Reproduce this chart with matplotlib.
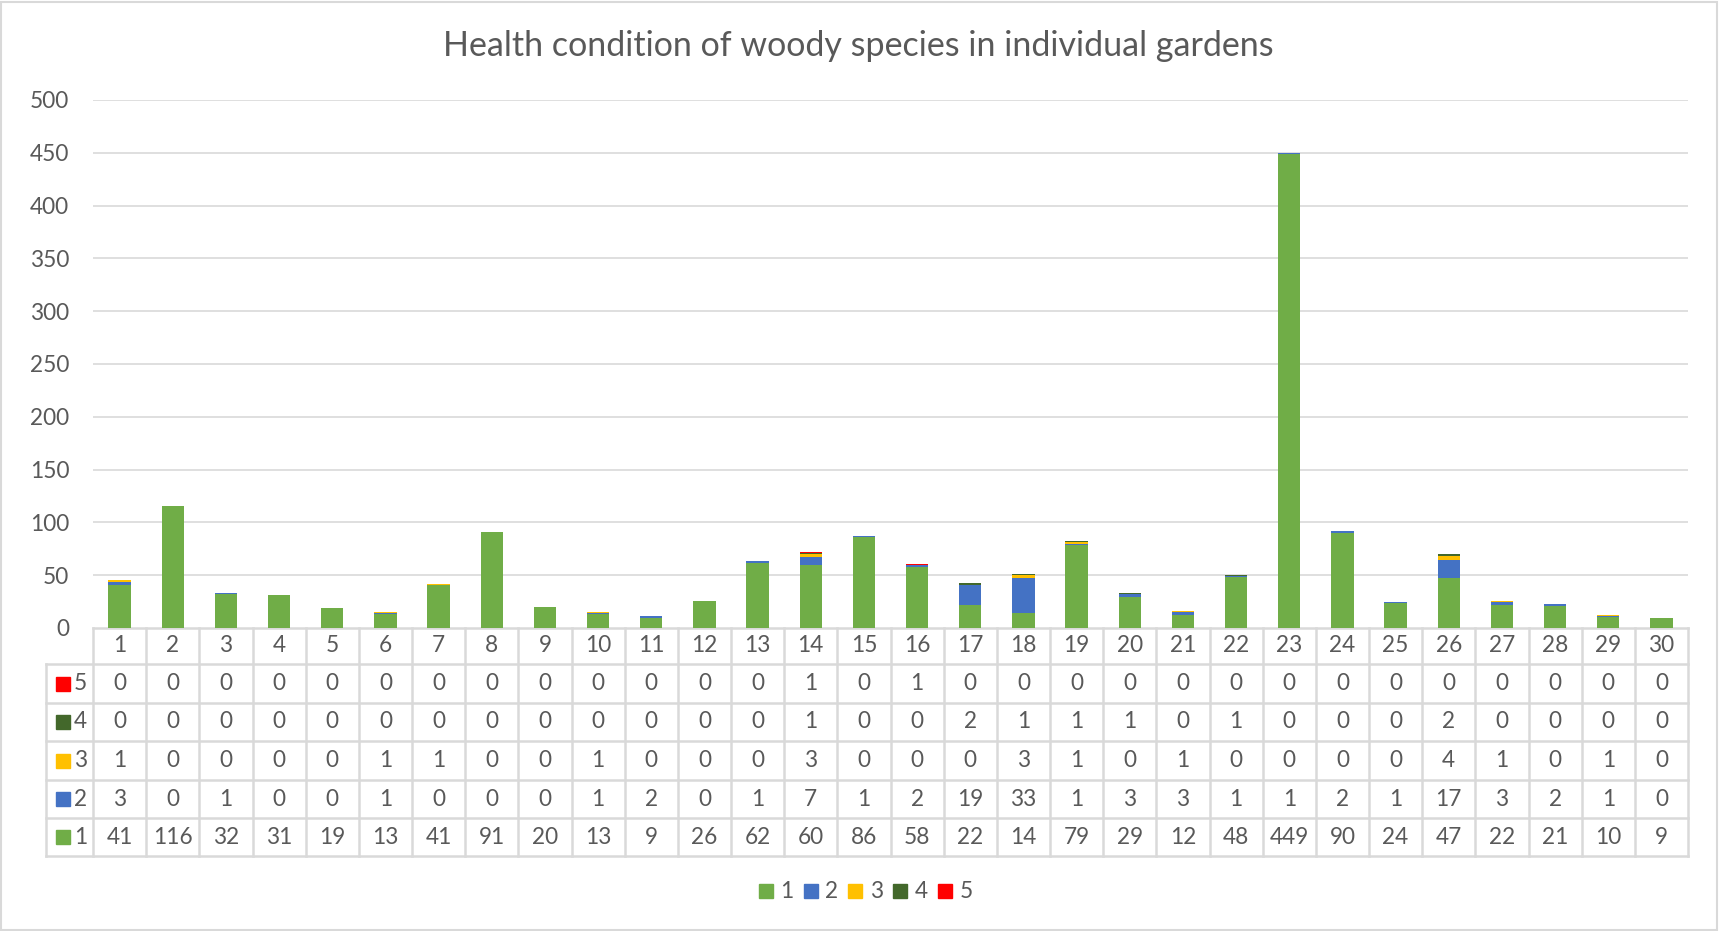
import matplotlib.pyplot as plt
from matplotlib.lines import Line2D
from matplotlib.patches import Rectangle
from matplotlib.transforms import blended_transform_factory
import numpy as np

# Gardens 1..30, health classes 1..5
gardens = [str(i) for i in range(1, 31)]
class_names = ["1", "2", "3", "4", "5"]
class_1 = [41, 116, 32, 31, 19, 13, 41, 91, 20, 13, 9, 26, 62, 60, 86, 58, 22, 14, 79, 29, 12, 48, 449, 90, 24, 47, 22, 21, 10, 9]
class_2 = [3, 0, 1, 0, 0, 1, 0, 0, 0, 1, 2, 0, 1, 7, 1, 2, 19, 33, 1, 3, 3, 1, 1, 2, 1, 17, 3, 2, 1, 0]
class_3 = [1, 0, 0, 0, 0, 1, 1, 0, 0, 1, 0, 0, 0, 3, 0, 0, 0, 3, 1, 0, 1, 0, 0, 0, 0, 4, 1, 0, 1, 0]
class_4 = [0, 0, 0, 0, 0, 0, 0, 0, 0, 0, 0, 0, 0, 1, 0, 0, 2, 1, 1, 1, 0, 1, 0, 0, 0, 2, 0, 0, 0, 0]
class_5 = [0, 0, 0, 0, 0, 0, 0, 0, 0, 0, 0, 0, 0, 1, 0, 1, 0, 0, 0, 0, 0, 0, 0, 0, 0, 0, 0, 0, 0, 0]
series = [class_1, class_2, class_3, class_4, class_5]
colors = ["#70AD47", "#4472C4", "#FFC000", "#43682B", "#FF0000"]
yticks = [0, 50, 100, 150, 200, 250, 300, 350, 400, 450, 500]

W, H = 1719, 931
txt = "#595959"
grid_c = "#d9d9d9"
fs = 16.3
plt.rcParams['font.family'] = ['Lato', 'DejaVu Sans']

fig = plt.figure(figsize=(W / 100, H / 100), dpi=100)
# plot area in pixels
px_l, px_r, px_t, px_b = 93, 1688, 100, 628
ax = fig.add_axes([px_l / W, 1 - px_b / H, (px_r - px_l) / W, (px_b - px_t) / H])

x = np.arange(len(gardens))
bottom = np.zeros(len(gardens))
for vals, col in zip(series, colors):
    ax.bar(x, vals, 0.42, bottom=bottom, color=col, zorder=3)
    bottom += np.array(vals)

ax.set_xlim(-0.5, len(gardens) - 0.5)
ax.set_ylim(0, 500)
ax.set_yticks(yticks)
ax.set_yticklabels([str(t) for t in yticks], fontsize=fs, color=txt)
ax.tick_params(axis='y', length=0, pad=17)
ax.set_xticks([])
for t in yticks[1:]:
    ax.axhline(t, color=grid_c, lw=1.2, zorder=1)
for s in ax.spines.values():
    s.set_visible(False)

fig.text(858 / W, 1 - 46 / H, "Health condition of woody species in individual gardens",
         ha='center', va='center', fontsize=24.5, color=txt)

# data table below the plot, in axes coords
ph = px_b - px_t
def ya(ypix):
    return (px_b - ypix) / ph

row_edges = [628, 664, 703, 741, 780, 818, 856]
px_per_cat = (px_r - px_l) / len(gardens)
legend_left = (46 - px_l) / px_per_cat - 0.5
bt = blended_transform_factory(ax.transData, ax.transAxes)
line_kw = dict(color=grid_c, lw=1.8, clip_on=False, transform=bt)

# horizontal lines
ax.plot([-0.5, 29.5], [ya(628)] * 2, **line_kw)
for yp in row_edges[1:]:
    ax.plot([legend_left, 29.5], [ya(yp)] * 2, **line_kw)
# vertical lines
for b in np.arange(-0.5, 30, 1.0):
    ax.plot([b, b], [ya(628), ya(856)], **line_kw)
ax.plot([legend_left, legend_left], [ya(664), ya(856)], **line_kw)

# header row
hy = ya((628 + 664) / 2)
for i, g in enumerate(gardens):
    ax.text(i, hy, g, ha='center', va='center', fontsize=fs, color=txt, transform=bt, clip_on=False)

# rows: 5 at top, 1 at bottom
key_x = legend_left + 17 / px_per_cat
for r, k in enumerate([4, 3, 2, 1, 0]):
    yc = ya((row_edges[r + 1] + row_edges[r + 2]) / 2)
    for i, v in enumerate(series[k]):
        ax.text(i, yc, str(v), ha='center', va='center', fontsize=fs, color=txt, transform=bt, clip_on=False)
    ax.plot([key_x], [yc], marker='s', ms=10, color=colors[k], transform=bt, clip_on=False, ls='none')
    ax.text(key_x + 11 / px_per_cat, yc, class_names[k], ha='left', va='center', fontsize=fs, color=txt,
            transform=bt, clip_on=False)

handles = [Line2D([], [], marker='s', ls='none', ms=10, color=c) for c in colors]
fig.legend(handles, class_names, loc='center', bbox_to_anchor=(866 / W, 1 - 892 / H), ncol=5,
           frameon=False, fontsize=fs, handlelength=0.6, handletextpad=0.35, columnspacing=0.45,
           labelcolor=txt)

fig.patches.append(Rectangle((1 / W, 1 / H), (W - 3) / W, (H - 3) / H, transform=fig.transFigure,
                             fill=False, edgecolor=grid_c, lw=1.5))

fig.savefig("out.png", dpi=100)
